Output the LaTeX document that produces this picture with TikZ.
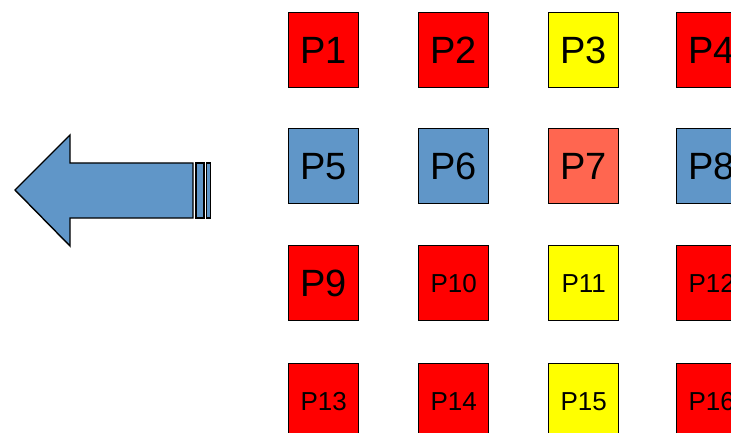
\documentclass[tikz,border=0pt]{standalone}
\usepackage{fontspec}
\setmainfont{Liberation Sans}
\definecolor{pblue}{RGB}{96,150,200}
\definecolor{pred}{RGB}{255,0,0}
\definecolor{pyellow}{RGB}{255,255,0}
\definecolor{ptomato}{RGB}{255,102,80}
\tikzset{
  cell/.style={draw=black, line width=1.4pt, minimum width=70pt, minimum height=75pt,
    inner sep=0pt, anchor=north west, text=black},
  big/.style={cell, font=\fontsize{38}{40}\selectfont},
  small/.style={cell, font=\fontsize{26}{28}\selectfont},
}
\begin{document}
\begin{tikzpicture}[x=1pt, y=-1pt]
\useasboundingbox (0,0) rectangle (731,433);
\clip (0,0) rectangle (731,433);
\fill[white] (0,0) rectangle (731,433);

% block arrow pointing left, with two stripes at its tail
\draw[line width=1.4pt, fill=pblue, line join=miter]
  (15,190) -- (70,135) -- (70,163) -- (193,163) -- (193,218) -- (70,218) -- (70,246) -- cycle;
\draw[line width=1.4pt, fill=pblue] (196,163) rectangle (204,218);
\draw[line width=1.4pt, fill=pblue] (206.5,163) rectangle (210.5,218);

% grid of cells
\node[big, fill=pred]     (p1)  at (288,12)  {P1};
\node[big, fill=pred]     (p2)  at (418,12)  {P2};
\node[big, fill=pyellow]  (p3)  at (548,12)  {P3};
\node[big, fill=pred]     (p4)  at (676,12)  {P4};

\node[big, fill=pblue]    (p5)  at (288,128) {P5};
\node[big, fill=pblue]    (p6)  at (418,128) {P6};
\node[big, fill=ptomato]  (p7)  at (548,128) {P7};
\node[big, fill=pblue]    (p8)  at (676,128) {P8};

\node[big, fill=pred]     (p9)  at (288,245) {P9};
\node[small, fill=pred]   (p10) at (418,245) {P10};
\node[small, fill=pyellow](p11) at (548,245) {P11};
\node[small, fill=pred]   (p12) at (676,245) {P12};

\node[small, fill=pred]   (p13) at (288,363) {P13};
\node[small, fill=pred]   (p14) at (418,363) {P14};
\node[small, fill=pyellow](p15) at (548,363) {P15};
\node[small, fill=pred]   (p16) at (676,363) {P16};
\end{tikzpicture}
\end{document}
